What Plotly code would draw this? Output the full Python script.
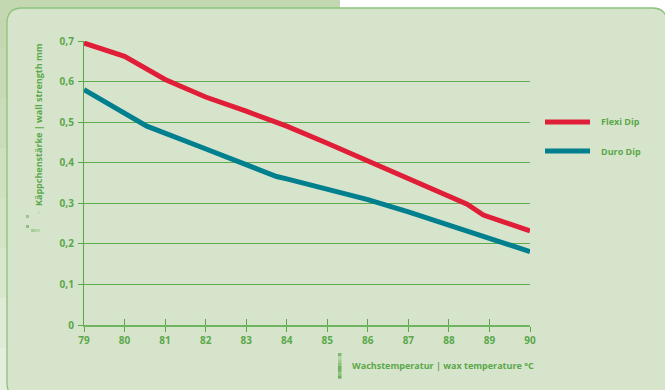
import plotly.graph_objects as go

# Wall strength (mm) against wax temperature (°C)
flexi_temp = [79, 80, 81, 82, 83, 84, 85, 86, 87, 88, 88.45, 88.85, 90]
flexi_wall = [0.695, 0.662, 0.605, 0.562, 0.527, 0.49, 0.448, 0.405, 0.361, 0.317, 0.298, 0.271, 0.232]

duro_temp = [79, 80.55, 81.85, 83.75, 84, 85, 86, 87, 88, 89, 90]
duro_wall = [0.58, 0.49, 0.44, 0.366, 0.36, 0.335, 0.309, 0.279, 0.246, 0.213, 0.181]

x_ticks = [79, 80, 81, 82, 83, 84, 85, 86, 87, 88, 89, 90]
y_ticks = [0, 0.1, 0.2, 0.3, 0.4, 0.5, 0.6, 0.7]
y_tick_text = ["0", "0,1", "0,2", "0,3", "0,4", "0,5", "0,6", "0,7"]
grid_vals = [0.1, 0.2, 0.3, 0.4, 0.5, 0.6]

series_names = ["Flexi Dip", "Duro Dip"]
series_colors = ["#e01e37", "#007f8e"]

y_title = "Käppchenstärke | wall strength mm"
x_title = "Wachstemperatur | wax temperature °C"

W, H = 665, 390
ML, MR, MT, MB = 84, 135, 41, 65
PW, PH = W - ML - MR, H - MT - MB

GREEN = "#5aa84a"
CARD = "#d7e4cc"
FONT = "Open Sans"


def px(x, y):
    """Pixel position -> paper coordinates."""
    return (x - ML) / PW, (H - MB - y) / PH


def rect(x0, y0, x1, y1, color, layer="below"):
    a, b = px(x0, y0)
    c, d = px(x1, y1)
    return dict(type="rect", xref="paper", yref="paper", x0=a, y0=b, x1=c, y1=d,
                fillcolor=color, line=dict(width=0), layer=layer)


def rounded_card(x0, y0, x1, y1, r):
    def P(x, y):
        a, b = px(x, y)
        return f"{a:.5f},{b:.5f}"

    path = (f"M {P(x0 + r, y0)} L {P(x1 - r, y0)} Q {P(x1, y0)} {P(x1, y0 + r)} "
            f"L {P(x1, y1 - r)} Q {P(x1, y1)} {P(x1 - r, y1)} "
            f"L {P(x0 + r, y1)} Q {P(x0, y1)} {P(x0, y1 - r)} "
            f"L {P(x0, y0 + r)} Q {P(x0, y0)} {P(x0 + r, y0)} Z")
    return dict(type="path", xref="paper", yref="paper", path=path,
                fillcolor=CARD, line=dict(color="#8cc37c", width=1.3), layer="below")


fig = go.Figure()

fig.add_trace(go.Scatter(x=flexi_temp, y=flexi_wall, mode="lines", name=series_names[0],
                         line=dict(color=series_colors[0], width=5), showlegend=False))
fig.add_trace(go.Scatter(x=duro_temp, y=duro_wall, mode="lines", name=series_names[1],
                         line=dict(color=series_colors[1], width=5), showlegend=False))
# invisible trace carrying the upward tick marks
fig.add_trace(go.Scatter(x=[x_ticks[0]], y=[0], xaxis="x2", mode="lines",
                         line=dict(width=0), hoverinfo="skip", showlegend=False))

shapes = []
# surroundings: white strip top right, green fading band top left / left side
shapes.append(rect(-10, -10, 700, 400, "#ffffff"))
band = ["#c3d8b1", "#c6dab5", "#cadcb9", "#cfe0bf", "#d4e3c6", "#d9e7cd", "#dfebd6", "#e4eedd"]
step = 400 / len(band)
for i, c in enumerate(band):
    shapes.append(rect(-10, i * step - 2, 340 if i == 0 else 40, (i + 1) * step, c))
shapes.append(rect(-10, -10, 340, 9, band[0]))
shapes.append(rounded_card(7, 8, 667, 398, 15))

# small decorative marks next to the axis titles
for (x0, y0, x1, y1, c) in [(26, 215, 29, 218, "#9cc78e"), (26, 225, 29, 228, "#8fc27f"),
                            (31, 229, 35, 232, "#a6cf98"), (35, 229, 40, 232, "#b6d7aa"),
                            (37, 211, 40, 214, "#c8e0bd")]:
    shapes.append(rect(x0, y0, x1, y1, c, layer="above"))
ic = ["#7db86c", "#b3d6a6", "#a0cb91", "#8cc17c", "#6fb15e", "#79b668", "#8fc381", "#6aae59"]
for i, c in enumerate(ic):
    shapes.append(rect(338, 353 + i * 3.2, 341.5, 353 + (i + 1) * 3.2, c, layer="above"))

# legend
legend_y = [122, 151]
annotations = []
for name, color, ly in zip(series_names, series_colors, legend_y):
    a, b = px(545, ly - 2.5)
    c, d = px(590, ly + 2.5)
    shapes.append(dict(type="rect", xref="paper", yref="paper", x0=a, y0=b, x1=c, y1=d,
                       fillcolor=color, line=dict(width=0), layer="above"))
    tx, ty = px(599, ly)
    annotations.append(dict(text=name, xref="paper", yref="paper", x=tx, y=ty,
                            xanchor="left", yanchor="middle", showarrow=False,
                            font=dict(family=FONT, size=9, color=GREEN, weight="bold")))

ax, ay = px(38, 125)
annotations.append(dict(text=y_title, xref="paper", yref="paper", x=ax, y=ay, textangle=-90,
                        xanchor="center", yanchor="middle", showarrow=False,
                        font=dict(family=FONT, size=9, color=GREEN, weight="bold")))
bx, by = px(350, 365)
annotations.append(dict(text=x_title, xref="paper", yref="paper", x=bx, y=by,
                        xanchor="left", yanchor="middle", showarrow=False,
                        font=dict(family=FONT, size=9, color=GREEN, weight="bold")))

tickfont = dict(family=FONT, size=10, color=GREEN, weight="bold")

fig.update_layout(
    width=W, height=H,
    margin=dict(l=ML, r=MR, t=MT, b=MB, pad=0),
    paper_bgcolor="#ffffff",
    plot_bgcolor="rgba(0,0,0,0)",
    shapes=shapes,
    annotations=annotations,
    xaxis=dict(range=[79, 90], tickmode="array", tickvals=x_ticks, ticks="outside",
               ticklen=5, tickwidth=1.2, tickcolor=GREEN, showgrid=False, zeroline=False,
               showline=True, linecolor="#6fb45e", linewidth=1.6, tickfont=tickfont,
               fixedrange=True),
    xaxis2=dict(range=[79, 90], overlaying="x", anchor="y", side="bottom",
                tickmode="array", tickvals=x_ticks, ticks="inside", ticklen=6,
                tickwidth=1.2, tickcolor=GREEN, showticklabels=False, showgrid=False,
                zeroline=False, showline=False),
    yaxis=dict(range=[0, 0.7], tickmode="array", tickvals=y_ticks, ticktext=y_tick_text,
               ticks="outside", ticklen=5, tickwidth=1.2, tickcolor=GREEN,
               showgrid=False, zeroline=False, showline=True, linecolor=GREEN,
               linewidth=1.2, tickfont=tickfont, ticklabelstandoff=2,
               minor=dict(tickmode="array", tickvals=grid_vals, showgrid=True,
                          gridcolor="#5fab4f", gridwidth=1, ticks="")),
    showlegend=False,
)

fig.write_html("out.html")
